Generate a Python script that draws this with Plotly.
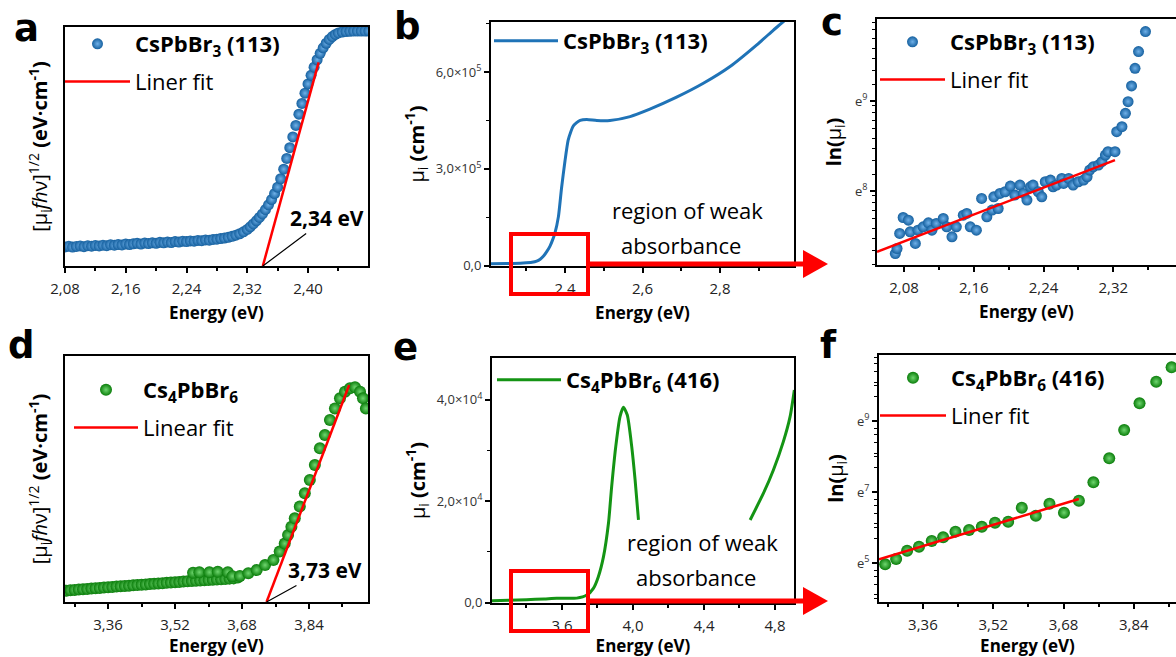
import math
import plotly.graph_objects as go

W, H = 1176, 657

# ---------------- data ----------------
# (a) Tauc plot CsPbBr3
a_energy = [2.080, 2.085, 2.090, 2.095, 2.100, 2.105, 2.110, 2.115, 2.120, 2.125,
            2.130, 2.135, 2.140, 2.145, 2.150, 2.155, 2.160, 2.165, 2.170, 2.175,
            2.180, 2.185, 2.190, 2.195, 2.200, 2.205, 2.210, 2.215, 2.220, 2.225,
            2.230, 2.235, 2.240, 2.245, 2.250, 2.255, 2.260, 2.265, 2.270, 2.275,
            2.280, 2.285, 2.290, 2.295, 2.300, 2.305, 2.310, 2.315, 2.320,
            2.324, 2.328, 2.332, 2.336, 2.340, 2.344, 2.348, 2.352, 2.356, 2.360,
            2.364, 2.368, 2.372, 2.376, 2.380, 2.384, 2.388, 2.392, 2.396, 2.400,
            2.404, 2.408, 2.412, 2.416, 2.420, 2.424, 2.428, 2.432, 2.436, 2.440,
            2.445, 2.450, 2.455, 2.460, 2.465, 2.470, 2.475, 2.480]
a_signal = [8.0, 8.3, 7.9, 8.2, 8.4, 8.1, 8.5, 8.3, 8.6, 8.4,
            8.7, 8.5, 8.9, 8.7, 9.0, 8.8, 9.2, 9.0, 9.3, 9.5,
            9.2, 9.6, 9.4, 9.7, 9.5, 9.9, 9.7, 10.0, 9.8, 10.2,
            10.0, 10.4, 10.2, 10.5, 10.4, 10.7, 10.6, 10.9, 10.8, 11.1,
            11.2, 11.5, 11.7, 12.0, 12.4, 12.9, 13.5, 14.3, 15.3,
            16.4, 17.6, 18.9, 20.3, 21.8, 23.6, 25.6, 27.8, 30.3, 33.0,
            36.5, 40.5, 45.0, 49.5, 54.0, 58.8, 63.5, 68.0, 72.3, 76.2,
            79.8, 83.2, 86.3, 89.0, 91.3, 93.2, 94.8, 96.0, 96.9, 97.5,
            97.9, 98.1, 98.2, 98.3, 98.3, 98.3, 98.3, 98.3]
a_fit_energy = [2.3405, 2.414]
a_fit_signal = [0.0, 85.2]

# (b) absorption coefficient CsPbBr3
b_energy = [2.209, 2.250, 2.292, 2.315, 2.327, 2.336, 2.344, 2.352, 2.361, 2.368,
            2.374, 2.383, 2.391, 2.400, 2.408, 2.415, 2.421, 2.430, 2.439, 2.456,
            2.482, 2.516, 2.568, 2.619, 2.688, 2.757, 2.826, 2.895, 2.938, 2.968, 2.991]
b_mu = [6000, 6500, 8200, 10500, 14000, 20000, 29000, 42000, 60000, 80000,
        101000, 152000, 240000, 325000, 388000, 415000, 432000, 443000, 450000, 453000,
        450000, 450000, 462000, 485000, 522000, 565000, 617000, 684000, 730000, 761000, 790000]

# (c) ln(mu) CsPbBr3 (Urbach tail)
c_energy = [2.070, 2.072, 2.075, 2.079, 2.085, 2.087, 2.093, 2.096, 2.102, 2.108,
            2.112, 2.117, 2.125, 2.129, 2.135, 2.140, 2.148, 2.152, 2.156, 2.163,
            2.169, 2.175, 2.181, 2.183, 2.188, 2.190, 2.196, 2.202, 2.207, 2.213,
            2.217, 2.221, 2.225, 2.228, 2.234, 2.238, 2.242, 2.248, 2.251, 2.255,
            2.261, 2.263, 2.269, 2.274, 2.280, 2.286, 2.290, 2.293, 2.297, 2.303,
            2.307, 2.311, 2.314, 2.322, 2.324, 2.330, 2.334, 2.337, 2.341, 2.345,
            2.349, 2.357, 2.361]
c_ln_mu = [7.307, 7.363, 7.530, 7.707, 7.678, 7.548, 7.419, 7.567, 7.604, 7.648,
           7.567, 7.641, 7.696, 7.604, 7.493, 7.604, 7.733, 7.752, 7.604, 7.567,
           7.919, 7.715, 7.789, 7.937, 7.807, 7.974, 7.993, 8.056, 7.956, 8.067,
           7.974, 7.900, 8.048, 8.067, 7.993, 7.937, 8.104, 8.122, 8.048, 8.067,
           8.141, 8.085, 8.141, 8.067, 8.104, 8.122, 8.159, 8.233, 8.270, 8.289,
           8.326, 8.400, 8.437, 8.437, 8.659, 8.715, 8.863, 8.993, 9.167, 9.363,
           9.548, 9.770, 10.000]
c_fit_energy = [2.049, 2.322]
c_fit_ln_mu = [7.326, 8.344]

# (d) Tauc plot Cs4PbBr6
d_energy = [3.26, 3.27, 3.28, 3.29, 3.30, 3.31, 3.32, 3.33, 3.34, 3.35,
            3.36, 3.37, 3.38, 3.39, 3.40, 3.41, 3.42, 3.43, 3.44, 3.45,
            3.46, 3.47, 3.48, 3.49, 3.50, 3.51, 3.52, 3.53, 3.54, 3.55,
            3.56, 3.57, 3.58, 3.59, 3.60, 3.61, 3.62, 3.63, 3.64, 3.65,
            3.66, 3.67,
            3.563, 3.578, 3.602, 3.622, 3.646, 3.657,
            3.675, 3.695, 3.715, 3.735, 3.755, 3.770, 3.782, 3.790, 3.798, 3.806,
            3.818, 3.830, 3.842, 3.854, 3.866, 3.878, 3.890, 3.902, 3.914, 3.926,
            3.938, 3.950, 3.962, 3.969, 3.976]
d_signal = [4.6, 4.8, 4.9, 5.1, 5.2, 5.3, 5.5, 5.6, 5.7, 5.9,
            6.0, 6.1, 6.3, 6.4, 6.5, 6.6, 6.8, 6.9, 7.0, 7.1,
            7.3, 7.4, 7.5, 7.6, 7.8, 7.9, 8.0, 8.1, 8.3, 8.4,
            8.5, 8.6, 8.7, 8.8, 8.9, 9.0, 9.1, 9.2, 9.3, 9.5,
            9.6, 10.0,
            11.9, 12.1, 12.1, 12.3, 12.1, 10.5,
            10.6, 11.7, 13.0, 15.0, 17.1, 20.5, 23.8, 27.2, 30.6, 34.0,
            38.8, 44.2, 49.6, 55.7, 62.5, 67.9, 74.0, 78.7, 82.8, 85.5,
            86.9, 87.3, 85.5, 82.8, 78.7]
d_fit_energy = [3.7386, 3.936]
d_fit_signal = [0.0, 88.2]

# (e) absorption coefficient Cs4PbBr6 (curve interrupted behind the text)
e_energy = [3.206, 3.300, 3.400, 3.500, 3.570, 3.683, 3.740, 3.777, 3.805, 3.834,
            3.862, 3.880, 3.903, 3.927, 3.946, 3.968, 3.993, 4.012, 4.031, None,
            4.660, 4.735, 4.791, 4.847, 4.885, 4.909]
e_mu = [400, 500, 600, 750, 870, 900, 1500, 2830, 5130, 9070,
        15640, 22860, 30740, 36650, 38500, 36980, 30740, 24180, 16300, None,
        16300, 21560, 26150, 31730, 36650, 41910]

# (f) ln(mu) Cs4PbBr6
f_energy = [3.274, 3.299, 3.324, 3.351, 3.380, 3.406, 3.434, 3.465, 3.494, 3.524,
            3.554, 3.585, 3.617, 3.648, 3.681, 3.715, 3.748, 3.784, 3.818, 3.853,
            3.891, 3.926]
f_ln_mu = [4.962, 5.113, 5.347, 5.460, 5.620, 5.723, 5.883, 5.930, 6.023, 6.136,
           6.164, 6.559, 6.333, 6.671, 6.418, 6.756, 7.272, 7.948, 8.746, 9.498,
           10.108, 10.512]
f_fit_energy = [3.26, 3.715]
f_fit_ln_mu = [5.103, 6.803]

# tick labels
b_y_tickvals = [0, 3e5, 6e5]
b_y_ticktext = ["0,0", "3,0×10<sup>5</sup>", "6,0×10<sup>5</sup>"]
e_y_tickvals = [0, 2e4, 4e4]
e_y_ticktext = ["0,0", "2,0×10<sup>4</sup>", "4,0×10<sup>4</sup>"]
c_y_tickvals = [8, 9]
c_y_ticktext = ["e<sup>8</sup>", "e<sup>9</sup>"]
f_y_tickvals = [5, 7, 9]
f_y_ticktext = ["e<sup>5</sup>", "e<sup>7</sup>", "e<sup>9</sup>"]

# ---------------- styling ----------------
BLUE = "#15609f"
BLUE_HI = "#6fb0e8"
GREEN = "#0a7d0a"
GREEN_HI = "#6fd66f"
LINE_BLUE = "#1f73b7"
LINE_GREEN = "#149414"
RED = "#ff0000"
FONT = "Open Sans"

def px(x):
    return x / W

def py(y):
    return 1 - y / H

fig = go.Figure()

name_cspbbr3 = "<b>CsPbBr<sub>3</sub> (113)</b>"
name_cs4 = "<b>Cs<sub>4</sub>PbBr<sub>6</sub></b>"
name_cs4_416 = "<b>Cs<sub>4</sub>PbBr<sub>6</sub> (416)</b>"

def marker(color, hi, size):
    return dict(color=color, size=size, line=dict(width=0),
                gradient=dict(type="radial", color=hi))

# a
fig.add_trace(go.Scatter(x=a_energy, y=a_signal, mode="markers", name=name_cspbbr3,
                         marker=marker(BLUE, BLUE_HI, 11), xaxis="x", yaxis="y",
                         legend="legend", legendgroup="a1"))
fig.add_trace(go.Scatter(x=a_fit_energy, y=a_fit_signal, mode="lines", name="Liner fit",
                         line=dict(color=RED, width=2.5), xaxis="x", yaxis="y",
                         legend="legend", legendgroup="a2"))
# b
fig.add_trace(go.Scatter(x=b_energy, y=b_mu, mode="lines", name=name_cspbbr3,
                         line=dict(color=LINE_BLUE, width=3, shape="spline", smoothing=0.6),
                         xaxis="x2", yaxis="y2", legend="legend2"))
# c
fig.add_trace(go.Scatter(x=c_energy, y=c_ln_mu, mode="markers", name=name_cspbbr3,
                         marker=marker(BLUE, BLUE_HI, 11), xaxis="x3", yaxis="y3",
                         legend="legend3", legendgroup="c1"))
fig.add_trace(go.Scatter(x=c_fit_energy, y=c_fit_ln_mu, mode="lines", name="Liner fit",
                         line=dict(color=RED, width=2.5), xaxis="x3", yaxis="y3",
                         legend="legend3", legendgroup="c2"))
# d
fig.add_trace(go.Scatter(x=d_energy, y=d_signal, mode="markers", name=name_cs4,
                         marker=marker(GREEN, GREEN_HI, 12), xaxis="x4", yaxis="y4",
                         legend="legend4", legendgroup="d1"))
fig.add_trace(go.Scatter(x=d_fit_energy, y=d_fit_signal, mode="lines", name="Linear fit",
                         line=dict(color=RED, width=2.5), xaxis="x4", yaxis="y4",
                         legend="legend4", legendgroup="d2"))
# e
fig.add_trace(go.Scatter(x=e_energy, y=e_mu, mode="lines", name=name_cs4_416,
                         line=dict(color=LINE_GREEN, width=3, shape="spline", smoothing=0.6),
                         connectgaps=False, xaxis="x5", yaxis="y5", legend="legend5"))
# f
fig.add_trace(go.Scatter(x=f_energy, y=f_ln_mu, mode="markers", name=name_cs4_416,
                         marker=marker(GREEN, GREEN_HI, 12), xaxis="x6", yaxis="y6",
                         legend="legend6", legendgroup="f1"))
fig.add_trace(go.Scatter(x=f_fit_energy, y=f_fit_ln_mu, mode="lines", name="Liner fit",
                         line=dict(color=RED, width=2.5), xaxis="x6", yaxis="y6",
                         legend="legend6", legendgroup="f2"))

# ---------------- axes ----------------
tickfont = dict(family=FONT, size=15, color="#222222")
smallfont = dict(family=FONT, size=13, color="#333333")
xtitlefont = dict(family=FONT, size=17, color="black")
ytitlefont = dict(family=FONT, size=20, color="black")

def xaxis(domain, rng, dtick, tick0, minor_dtick, anchor, fmt, standoff, mirror=True):
    return dict(domain=domain, range=rng, anchor=anchor, automargin=False, showline=True,
                linecolor="black", linewidth=2, mirror=mirror, ticks="outside", ticklen=5,
                tickwidth=1.5, tickcolor="black", tickmode="linear", dtick=dtick, tick0=tick0,
                tickformat=fmt, tickfont=tickfont, showgrid=False, zeroline=False,
                minor=dict(ticks="outside", ticklen=3, tickwidth=1.5, tickcolor="black",
                           dtick=minor_dtick, tick0=tick0, showgrid=False),
                title=dict(text="<b>Energy (eV)</b>", font=xtitlefont, standoff=standoff),
                ticklabelstandoff=3)

def yaxis_plain(domain, rng, anchor, title):
    return dict(domain=domain, range=rng, anchor=anchor, automargin=False, showline=True,
                linecolor="black", linewidth=2, mirror=True, ticks="", showticklabels=False,
                showgrid=False, zeroline=False,
                title=dict(text=title, font=ytitlefont, standoff=10))

def yaxis_ticks(domain, rng, anchor, title, tickvals, ticktext, minor, mirror=True, standoff=6):
    return dict(domain=domain, range=rng, anchor=anchor, automargin=False, showline=True,
                linecolor="black", linewidth=2, mirror=mirror, ticks="outside", ticklen=5,
                tickwidth=1.5, tickcolor="black", tickmode="array", tickvals=tickvals,
                ticktext=ticktext, tickfont=smallfont, showgrid=False, zeroline=False,
                minor=dict(ticks="outside", ticklen=3, tickwidth=1.2, tickcolor="black",
                           tickmode="array", tickvals=minor, showgrid=False),
                title=dict(text=title, font=ytitlefont, standoff=standoff))

dom_a_x = [px(65), px(368)];  dom_a_y = [py(266), py(27)]
dom_b_x = [px(491), px(794)]; dom_b_y = [py(266), py(22)]
dom_c_x = [px(877), 1.0];     dom_c_y = [py(265), py(19)]
dom_d_x = [px(65), px(368)];  dom_d_y = [py(602), py(356)]
dom_e_x = [px(492), px(794)]; dom_e_y = [py(603), py(358)]
dom_f_x = [px(879), 1.0];     dom_f_y = [py(602), py(355)]

tauc_title = "[μ<sub>i</sub><i>fh</i>ν]<sup>1/2</sup> <b>(eV·cm<sup>-1</sup>)</b>"
mu_title = "μ<sub>i</sub> <b>(cm<sup>-1</sup>)</b>"
ln_title = "<b>ln(</b>μ<sub>i</sub><b>)</b>"

c_minor = [n + math.log(m) for n in range(6, 11) for m in (1.2, 1.4, 1.6, 1.8, 2.0, 2.2, 2.4, 2.6)]
f_minor = [4, 6, 8, 10] + [n + math.log(m) for n in (3, 5, 7, 9) for m in (2, 3, 4, 5, 6)]

fig.update_layout(
    xaxis=xaxis(dom_a_x, [2.08, 2.479], 0.08, 2.08, 0.04, "y", ".2f", 10),
    yaxis=yaxis_plain(dom_a_y, [0, 100], "x", tauc_title),
    xaxis2=xaxis(dom_b_x, [2.209, 2.991], 0.2, 2.4, 0.1, "y2", ".1f", 10),
    yaxis2=yaxis_ticks(dom_b_y, [-1000, 7.55e5], "x2", mu_title, b_y_tickvals, b_y_ticktext,
                       [1.5e5, 4.5e5, 7.5e5]),
    xaxis3=xaxis(dom_c_x, [2.049, 2.392], 0.08, 2.08, 0.04, "y3", ".2f", 10),
    yaxis3=yaxis_ticks(dom_c_y, [7.18, 9.91], "x3", ln_title, c_y_tickvals, c_y_ticktext,
                       c_minor, mirror=False, standoff=8),
    xaxis4=xaxis(dom_d_x, [3.257, 3.981], 0.16, 3.36, 0.08, "y4", ".2f", 6),
    yaxis4=yaxis_plain(dom_d_y, [0, 100], "x4", tauc_title),
    xaxis5=xaxis(dom_e_x, [3.206, 4.907], 0.4, 3.6, 0.2, "y5", ".1f", 6),
    yaxis5=yaxis_ticks(dom_e_y, [-60, 4.82e4], "x5", mu_title, e_y_tickvals, e_y_ticktext,
                       [1e4, 3e4]),
    xaxis6=xaxis(dom_f_x, [3.26, 3.936], 0.16, 3.36, 0.08, "y6", ".2f", 6),
    yaxis6=yaxis_ticks(dom_f_y, [3.9, 10.86], "x6", ln_title, f_y_tickvals, f_y_ticktext,
                       f_minor, mirror=False, standoff=8),
)

# ---------------- legends ----------------
def legend(x0, top, width):
    return dict(x=px(x0), y=py(top), xanchor="left", yanchor="top", bgcolor="rgba(0,0,0,0)",
                borderwidth=0, font=dict(family=FONT, size=22, color="black"),
                itemwidth=width, traceorder="grouped", tracegroupgap=6, itemsizing="trace")

fig.update_layout(
    legend=legend(60, 23, 65),
    legend2=legend(489, 20, 64),
    legend3=legend(875, 21, 65),
    legend4=legend(69, 369, 64),
    legend5=legend(492, 359, 64),
    legend6=legend(875, 357, 66),
)

# ---------------- annotations ----------------
ann = []
label_font = dict(family="DejaVu Sans", size=37, color="black")
for txt, x, y in [("a", 26, 28), ("b", 407, 27), ("c", 832, 23),
                  ("d", 21, 345), ("e", 405, 347), ("f", 828, 345)]:
    ann.append(dict(text=f"<b>{txt}</b>", x=px(x), y=py(y), xref="paper", yref="paper",
                    showarrow=False, xanchor="center", yanchor="middle", font=label_font))

note_font = dict(family=FONT, size=21, color="black")
ann.append(dict(text="<b>2,34 eV</b>", x=2.3405, y=0, xref="x", yref="y", showarrow=True,
                arrowhead=0, arrowwidth=1.2, arrowcolor="black", ax=64, ay=-48,
                font=note_font))
ann.append(dict(text="<b>3,73 eV</b>", x=3.7386, y=0, xref="x4", yref="y4", showarrow=True,
                arrowhead=0, arrowwidth=1.2, arrowcolor="black", ax=58, ay=-32,
                font=note_font))

region_font = dict(family=FONT, size=22, color="black")
for txt, x, y in [("region of weak", 687, 210), ("absorbance", 681, 245),
                  ("region of weak", 702, 542), ("absorbance", 696, 577)]:
    ann.append(dict(text=txt, x=px(x), y=py(y), xref="paper", yref="paper", showarrow=False,
                    xanchor="center", yanchor="middle", font=region_font))

fig.update_layout(annotations=ann)

# ---------------- highlight boxes and arrows ----------------
shapes = []
for (x0, y0, x1, y1, ly) in [(511, 234, 588, 294, 264), (511, 571, 588, 631, 601)]:
    shapes.append(dict(type="rect", xref="paper", yref="paper", x0=px(x0), x1=px(x1),
                       y0=py(y0), y1=py(y1), line=dict(color=RED, width=4), layer="above"))
    shapes.append(dict(type="line", xref="paper", yref="paper", x0=px(x1), x1=px(806),
                       y0=py(ly), y1=py(ly), line=dict(color=RED, width=5), layer="above"))
    path = (f"M{px(803)},{py(ly - 14)} L{px(828)},{py(ly)} L{px(803)},{py(ly + 14)} Z")
    shapes.append(dict(type="path", xref="paper", yref="paper", path=path,
                       fillcolor=RED, line=dict(color=RED, width=0), layer="above"))
fig.update_layout(shapes=shapes)

fig.update_layout(width=W, height=H, autosize=False, margin=dict(l=0, r=0, t=0, b=0, pad=0),
                  paper_bgcolor="white", plot_bgcolor="white", separators=", ",
                  font=dict(family=FONT, color="black"))

fig.write_html("out.html")
